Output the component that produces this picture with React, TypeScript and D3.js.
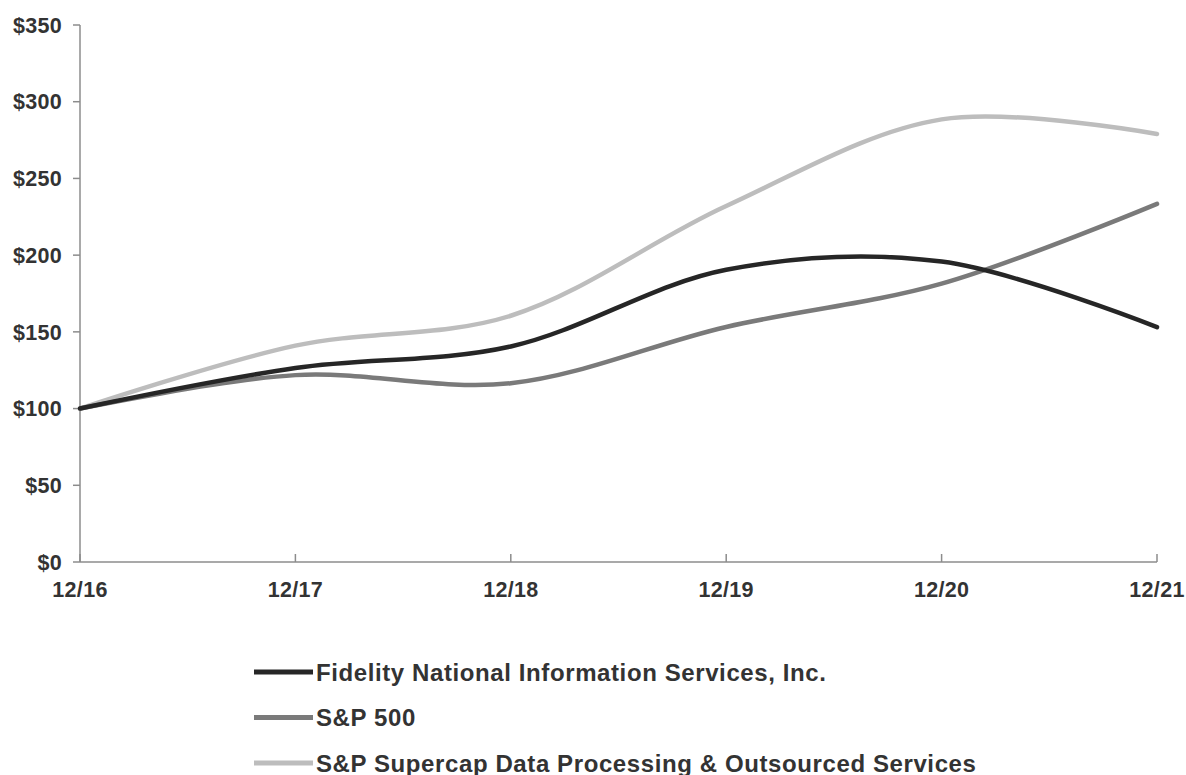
import React from "react";
import * as d3 from "d3";

const periods = ["12/16", "12/17", "12/18", "12/19", "12/20", "12/21"];
const fisValues = [100, 126.4, 140.5, 190.5, 195.8, 153.1];
const sp500Values = [100, 121.8, 116.5, 153.2, 181.4, 233.4];
const supercapValues = [100, 141, 160.5, 232, 288.5, 279];
const yTicks = [0, 50, 100, 150, 200, 250, 300, 350];

const seriesNames = [
  "Fidelity National Information Services, Inc.",
  "S&P 500",
  "S&P Supercap Data Processing & Outsourced Services",
];
const seriesColors = ["#262626", "#7a7a7a", "#bdbdbd"];
const seriesData = [fisValues, sp500Values, supercapValues];

const W = 1186;
const H = 775;
const FONT = "'Liberation Sans', Arial, sans-serif";

export default function App() {
  const x = d3.scalePoint<string>().domain(periods).range([80, 1157]);
  const y = d3.scaleLinear().domain([0, 350]).range([562, 25]);
  const line = d3
    .line<number>()
    .x((_, i) => x(periods[i]) as number)
    .y((d) => y(d))
    .curve(d3.curveCatmullRom.alpha(0.5));

  const drawOrder = [2, 1, 0];

  return (
    <svg
      width={W}
      height={H}
      style={{ position: "absolute", left: 0, top: 0, background: "#fff" }}
    >
      {/* axes */}
      <line x1={80} x2={80} y1={y(350)} y2={y(0)} stroke="#8c8c8c" strokeWidth={1.5} />
      <line x1={80} x2={1157} y1={y(0)} y2={y(0)} stroke="#8c8c8c" strokeWidth={1.5} />
      {yTicks.map((t) => (
        <g key={t}>
          <line x1={73} x2={80} y1={y(t)} y2={y(t)} stroke="#8c8c8c" strokeWidth={1.5} />
          <text
            x={62}
            y={y(t) + 7.7}
            textAnchor="end"
            fontFamily={FONT}
            fontWeight="bold"
            fontSize={21.5}
            letterSpacing={0.3}
            fill="#333"
          >
            {"$" + t}
          </text>
        </g>
      ))}
      {periods.map((p) => (
        <g key={p}>
          <line
            x1={x(p)}
            x2={x(p)}
            y1={y(0)}
            y2={y(0) - 8}
            stroke="#8c8c8c"
            strokeWidth={1.5}
          />
          <text
            x={x(p)}
            y={597}
            textAnchor="middle"
            fontFamily={FONT}
            fontWeight="bold"
            fontSize={21.5}
            letterSpacing={0.3}
            fill="#333"
          >
            {p}
          </text>
        </g>
      ))}
      {/* lines */}
      {drawOrder.map((i) => (
        <path
          key={i}
          d={line(seriesData[i]) || ""}
          fill="none"
          stroke={seriesColors[i]}
          strokeWidth={4.5}
          strokeLinecap="round"
        />
      ))}
      {/* legend */}
      {seriesNames.map((n, i) => {
        const ly = 672 + i * 45.5;
        return (
          <g key={n}>
            <line
              x1={254}
              x2={313}
              y1={ly}
              y2={ly}
              stroke={seriesColors[i]}
              strokeWidth={5}
            />
            <text
              x={316}
              y={ly + 8.5}
              fontFamily={FONT}
              fontWeight="bold"
              fontSize={24}
              letterSpacing={0.6}
              fill="#333"
            >
              {n}
            </text>
          </g>
        );
      })}
    </svg>
  );
}
